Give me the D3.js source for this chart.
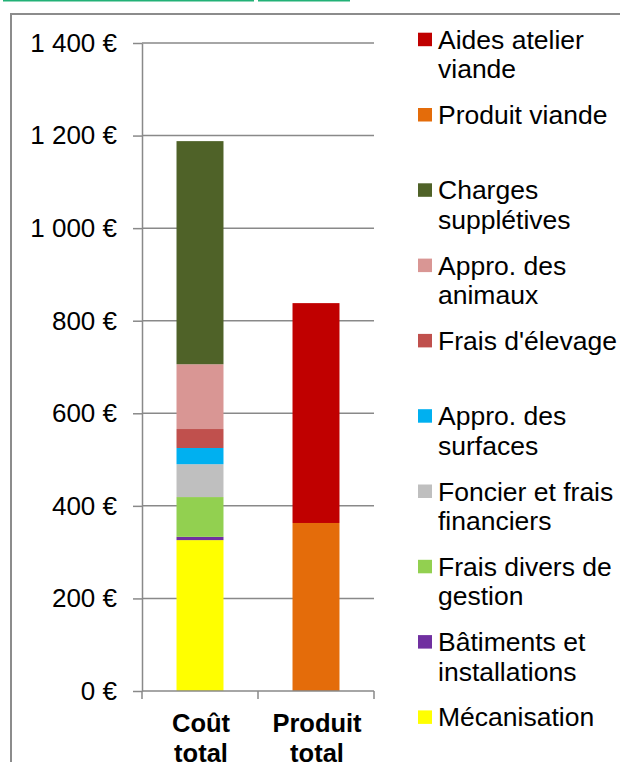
<!DOCTYPE html>
<html><head><meta charset="utf-8">
<script src="https://cdn.jsdelivr.net/npm/d3@7"></script>
<style>
body{margin:0;background:#fff}
svg{display:block}
text{font-family:"Liberation Sans",Arial,Helvetica,sans-serif;fill:#000}
</style>
</head><body>
<svg id="chart" width="620" height="762"></svg>
<script>
// ---- data ----
const categories = ["Coût total", "Produit total"];
const categoryLines = [["Coût", "total"], ["Produit", "total"]];
const seriesNames = ["Mécanisation", "Bâtiments et installations", "Frais divers de gestion",
  "Foncier et frais financiers", "Appro. des surfaces", "Frais d'élevage", "Appro. des animaux",
  "Charges supplétives", "Produit viande", "Aides atelier viande"];
const legendLines = [["Mécanisation"], ["Bâtiments et", "installations"], ["Frais divers de", "gestion"],
  ["Foncier et frais", "financiers"], ["Appro. des", "surfaces"], ["Frais d'élevage"], ["Appro. des", "animaux"],
  ["Charges", "supplétives"], ["Produit viande"], ["Aides atelier", "viande"]];
const coutTotalValues = [326, 7, 86, 71, 35, 41, 140, 482, 0, 0];
const produitTotalValues = [0, 0, 0, 0, 0, 0, 0, 0, 363, 475];
const seriesColors = ["#FFFF00", "#7030A0", "#92D050", "#BFBFBF", "#00B0F0", "#C0504D", "#D99694",
  "#4F6228", "#E46C0A", "#C00000"];
const yTickValues = [0, 200, 400, 600, 800, 1000, 1200, 1400];
const yTickLabels = ["0 €", "200 €", "400 €", "600 €", "800 €", "1 000 €", "1 200 €", "1 400 €"];

// ---- build table ----
const table = categories.map((c, i) => {
  const row = {category: c};
  seriesNames.forEach((s, j) => { row[s] = (i === 0 ? coutTotalValues : produitTotalValues)[j]; });
  return row;
});

const svg = d3.select("#chart");
const axisColor = "#898989";

// decorative top lines & frame
svg.append("line").attr("x1", 3).attr("x2", 254).attr("y1", 0.5).attr("y2", 0.5)
  .attr("stroke", "#22b177").attr("stroke-width", 2);
svg.append("line").attr("x1", 258).attr("x2", 350).attr("y1", 0.5).attr("y2", 0.5)
  .attr("stroke", "#22b177").attr("stroke-width", 2);
svg.append("rect").attr("x", 11).attr("y", 14).attr("width", 700).attr("height", 900)
  .attr("fill", "#fff").attr("stroke", "#8c8c8c").attr("stroke-width", 2);

const plotLeft = 142, plotRight = 374, plotTop = 43, plotBottom = 691;

const y = d3.scaleLinear().domain([0, 1400]).range([plotBottom, plotTop]);
const x = d3.scaleBand().domain(categories).range([plotLeft, plotRight])
  .paddingInner(0.595).paddingOuter(0.2975);

// gridlines
svg.append("g").selectAll("line").data(yTickValues.filter(d => d > 0)).join("line")
  .attr("x1", plotLeft).attr("x2", plotRight)
  .attr("y1", d => y(d)).attr("y2", d => y(d))
  .attr("stroke", axisColor).attr("stroke-width", 1.5);

// bars
const stack = d3.stack().keys(seriesNames);
const stacked = stack(table);
svg.append("g").selectAll("g").data(stacked).join("g")
  .attr("fill", (d, i) => seriesColors[i])
  .selectAll("rect").data(d => d).join("rect")
  .attr("x", d => x(d.data.category))
  .attr("width", x.bandwidth())
  .attr("y", d => y(d[1]))
  .attr("height", d => y(d[0]) - y(d[1]));

// y axis
const yAxis = d3.axisLeft(y).tickValues(yTickValues).tickSize(9).tickSizeOuter(0).tickPadding(16)
  .tickFormat((d, i) => yTickLabels[i]);
const gy = svg.append("g").attr("transform", `translate(${plotLeft},0)`).call(yAxis);
gy.select(".domain").attr("stroke", axisColor).attr("stroke-width", 1.5);
gy.selectAll(".tick line").attr("stroke", axisColor).attr("stroke-width", 1.5);
gy.selectAll(".tick text").attr("font-size", 26).attr("font-family", "Liberation Sans, Arial, sans-serif")
  .attr("fill", "#000");

// x axis
svg.append("line").attr("x1", plotLeft).attr("x2", plotRight).attr("y1", plotBottom).attr("y2", plotBottom)
  .attr("stroke", axisColor).attr("stroke-width", 1.5);
const edges = d3.range(categories.length + 1).map(i => plotLeft + i * x.step());
svg.append("g").selectAll("line").data(edges).join("line")
  .attr("x1", d => d).attr("x2", d => d).attr("y1", plotBottom).attr("y2", plotBottom + 8)
  .attr("stroke", axisColor).attr("stroke-width", 1.5);
const catG = svg.append("g").selectAll("text").data(categories).join("text")
  .attr("x", d => x(d) + x.bandwidth() / 2 + 1)
  .attr("y", 732)
  .attr("text-anchor", "middle").attr("font-size", 25.5).attr("font-weight", "bold");
catG.selectAll("tspan").data((d, i) => categoryLines[i]).join("tspan")
  .attr("x", function() { return d3.select(this.parentNode).attr("x"); })
  .attr("dy", (d, i) => i === 0 ? 0 : 30)
  .text(d => d);

// legend (reverse order)
const legendOrder = d3.range(seriesNames.length).reverse();
const lg = svg.append("g").selectAll("g").data(legendOrder).join("g")
  .attr("transform", (d, k) => `translate(418,${32.7 + k * 75.3})`);
lg.append("rect").attr("width", 14).attr("height", 13.5).attr("fill", d => seriesColors[d]);
const lt = lg.append("text").attr("x", 20).attr("y", 16).attr("font-size", 26.5);
lt.selectAll("tspan").data(d => legendLines[d]).join("tspan")
  .attr("x", 20).attr("dy", (d, i) => i === 0 ? 0 : 29.6).text(d => d);
</script>
</body></html>
